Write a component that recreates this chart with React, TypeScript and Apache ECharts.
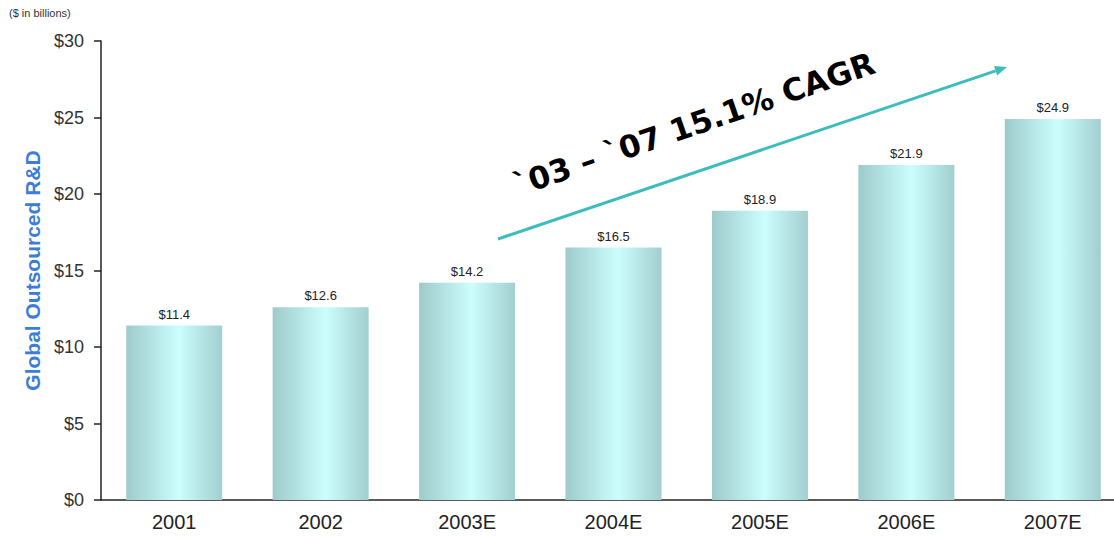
import React, { useEffect, useRef } from "react";
import * as echarts from "echarts";

const categories = ["2001", "2002", "2003E", "2004E", "2005E", "2006E", "2007E"];
const values = [11.4, 12.6, 14.2, 16.5, 18.9, 21.9, 24.9];
const yTicks = { min: 0, max: 30, interval: 5 };
const unitNote = "($ in billions)";
const yTitle = "Global Outsourced R&D";
const cagrText = "`03 \u2013 `07 15.1% CAGR";

export default function App() {
  const ref = useRef<HTMLDivElement>(null);
  useEffect(() => {
    const chart = echarts.init(ref.current!, null, { renderer: "svg" });
    const font = "Liberation Sans, Arial, sans-serif";
    const x1 = 498, y1 = 239, x2 = 1007, y2 = 67;
    const ang = Math.atan2(y1 - y2, x2 - x1);
    const ah = 12, aw = 5;
    const ux = Math.cos(ang), uy = -Math.sin(ang);
    const bx = x2 - ux * ah, by = y2 - uy * ah;
    chart.setOption({
      animation: false,
      grid: { left: 101, top: 41, height: 459, width: 1025, containLabel: false },
      xAxis: {
        type: "category",
        data: categories,
        axisLine: { lineStyle: { color: "#222", width: 1.5 } },
        axisTick: { show: false },
        axisLabel: { fontFamily: font, fontSize: 20, color: "#222", margin: 12 },
      },
      yAxis: {
        type: "value",
        min: yTicks.min,
        max: yTicks.max,
        interval: yTicks.interval,
        name: yTitle,
        nameLocation: "middle",
        nameGap: 58,
        nameTextStyle: { fontFamily: font, fontSize: 21, fontWeight: "bold", color: "#3b7dd8" },
        axisLine: { show: true, lineStyle: { color: "#222", width: 1.5 } },
        axisTick: { show: true, length: 7, lineStyle: { color: "#222", width: 1.5 } },
        splitLine: { show: false },
        axisLabel: {
          fontFamily: font,
          fontSize: 18,
          color: "#333",
          margin: 17,
          formatter: (v: number) => "$" + v,
        },
      },
      series: [
        {
          type: "bar",
          data: values,
          barWidth: 96,
          itemStyle: {
            color: new echarts.graphic.LinearGradient(0, 0, 1, 0, [
              { offset: 0, color: "#9ecaca" },
              { offset: 0.55, color: "#ccfefe" },
              { offset: 1, color: "#a2cece" },
            ]),
          },
          label: {
            show: true,
            position: "top",
            distance: 5,
            fontFamily: font,
            fontSize: 13,
            color: "#222",
            formatter: (p: any) => "$" + p.value.toFixed(1),
          },
        },
      ],
      graphic: [
        {
          type: "text",
          left: 9,
          top: 7,
          style: { text: unitNote, font: `11px ${font}`, fill: "#333" },
        },
        {
          type: "line",
          shape: { x1, y1, x2: bx, y2: by },
          style: { stroke: "#3cbcbc", lineWidth: 3 },
        },
        {
          type: "polygon",
          shape: {
            points: [
              [x2, y2],
              [bx - uy * aw, by + ux * aw],
              [bx + uy * aw, by - ux * aw],
            ],
          },
          style: { fill: "#3cbcbc" },
        },
        {
          type: "text",
          x: 694,
          y: 124,
          rotation: (19 * Math.PI) / 180,
          style: {
            text: cagrText,
            font: "bold 31px 'DejaVu Sans', Verdana, sans-serif",
            fill: "#000",
            align: "center",
            verticalAlign: "middle",
          },
        },
      ],
    });
    return () => chart.dispose();
  }, []);
  return (
    <div
      style={{ position: "fixed", left: 0, top: 0, width: 1114, height: 537, overflow: "hidden", background: "#fff" }}
    >
      <div ref={ref} style={{ width: 1140, height: 537 }} />
    </div>
  );
}
